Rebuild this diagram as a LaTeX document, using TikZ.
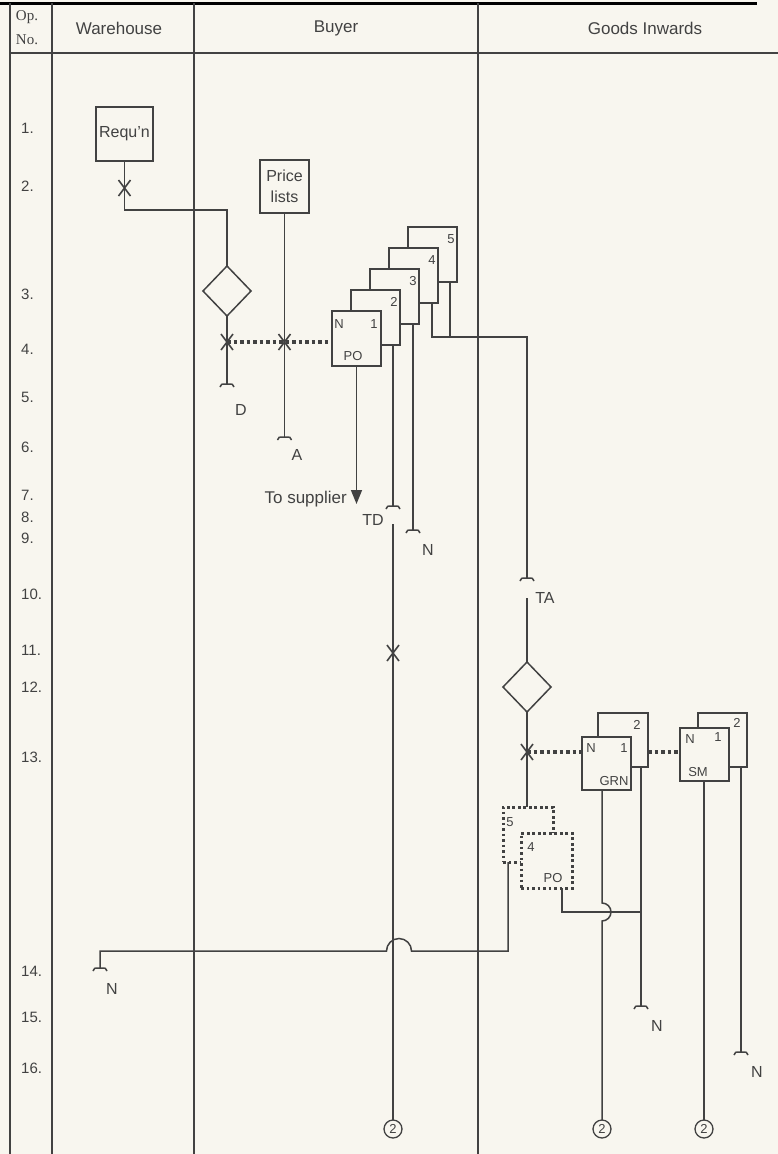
\documentclass[tikz,border=0pt]{standalone}
\usepackage{fontspec}
\setmainfont{Liberation Sans}
\newfontfamily\opfont{Liberation Serif}
\usetikzlibrary{arrows.meta,shapes.geometric,calc}
\definecolor{ink}{HTML}{424242}
\definecolor{paper}{HTML}{F8F6EF}
\tikzset{
  ln/.style={draw=ink, line width=1.5pt},
  formbox/.style={draw=ink, line width=1.5pt, fill=paper, minimum width=49pt, minimum height=55pt, anchor=north west, inner sep=0pt, outer sep=0pt},
  dotbox/.style={draw=ink, line width=3pt, dash pattern=on 2.6pt off 2.9pt, fill=paper, anchor=north west, inner sep=0pt, outer sep=0pt},
  dotln/.style={draw=ink, line width=3.6pt, dash pattern=on 3.5pt off 3pt},
  docbox/.style={draw=ink, line width=1.5pt, fill=paper, inner sep=0pt, outer sep=0pt, align=center, text=ink, font=\fontsize{16}{21}\selectfont},
  lbl/.style={text=ink, font=\fontsize{16}{18}\selectfont, inner sep=0pt},
  hdr/.style={text=ink, font=\fontsize{17}{19}\selectfont, inner sep=0pt},
  small/.style={text=ink, font=\fontsize{13}{14}\selectfont, inner sep=0pt},
  num/.style={text=ink, font=\fontsize{15}{17}\selectfont, inner sep=0pt, anchor=west},
  decision/.style={diamond, draw=ink, line width=1.5pt, inner sep=0pt, outer sep=0pt, minimum width=48pt, minimum height=50pt},
  endcircle/.style={circle, draw=ink, line width=1.3pt, minimum size=18pt, inner sep=0pt, outer sep=0pt, text=ink, font=\fontsize{13}{14}\selectfont},
  pics/endbar/.style={code={\draw[ink, line width=1.5pt] (-7,3) .. controls (-6,0) .. (0,0) .. controls (6,0) .. (7,3);}},
  pics/xmark/.style={code={\draw[ink, line width=1.6pt] (-6,-8) -- (6,8) (-6,8) -- (6,-8);}},
}
\begin{document}
\begin{tikzpicture}[x=1pt,y=-1pt]
\useasboundingbox (0,0) rectangle (778,1154);
\fill[paper] (0,0) rectangle (778,1154);
% ---------- table ----------
\draw[black, line width=3pt] (0,3) -- (757,3);
\draw[ln] (10,3) -- (10,1154);
\draw[ln] (52,3) -- (52,1154);
\draw[ln] (194,3) -- (194,1154);
\draw[ln] (478,3) -- (478,1154);
\draw[ln] (10,53) -- (778,53);
\node[text=ink, font=\opfont\fontsize{15}{17}\selectfont, inner sep=0pt] (op) at (27,17) {Op.};
\node[text=ink, font=\opfont\fontsize{15}{17}\selectfont, inner sep=0pt] (no) at (27,40) {No.};
\node[hdr] (hw) at (119,28) {Warehouse};
\node[hdr] (hb) at (336,28) {Buyer};
\node[hdr] (hg) at (645,28) {Goods Inwards};
\foreach \n/\yy in {1/128,2/186,3/294,4/349,5/397,6/447,7/495,8/517,9/538,10/594,11/650,12/687,13/757,14/971,15/1017,16/1068}
  \node[num] (row\n) at (21,\yy) {\n.};
% ---------- warehouse ----------
\node[docbox, minimum width=57pt, minimum height=54pt] (req) at (124.5,134) {Requ'n};
\coordinate (rqbend) at (124.5,210);
\node[decision] (dec1) at (227,291) {};
\draw[ln] (req.south) -- (rqbend) -| (dec1.north);
\pic at (124.5,188) {xmark};
% ---------- buyer ----------
\node[docbox, minimum width=49pt, minimum height=53pt] (pl) at (284.5,186.5) {Price\\lists};
\coordinate (xd) at (227,342);
\coordinate (xa) at (284.5,342);
\coordinate (dend) at (227,384);
\coordinate (aend) at (284.5,437);
\draw[ln] (dec1.south) -- (dend);
\pic at (dend) {endbar};
\draw[ln] (pl.south) -- (aend);
\pic at (aend) {endbar};
\node[lbl] (dl) at (241,410) {D};
\node[lbl] (al) at (297,455) {A};
% PO set
\foreach \k/\x/\y in {5/408/227,4/389/248,3/370/269,2/351/290}{
  \node[formbox] (po\k) at (\x,\y) {};
  \node[small] (po\k n) at ($(po\k.north east)+(-6,12)$) {\k};
}
\node[formbox] (po1) at (332,311) {};
\node[small] (po1a) at (339,324) {N};
\node[small] (po1b) at (374,324) {1};
\node[small] (po1c) at (353,356) {PO};
\draw[dotln] (xd) -- (xd -| po1.west);
\pic at (xd) {xmark};
\pic at (xa) {xmark};
% copy 1 to supplier
\coordinate (sup) at (356.5,504);
\draw[ln, -{Triangle[length=14pt,width=11pt]}] (po1.south) -- (sup);
\node[text=ink, font=\fontsize{17}{19}\selectfont, inner sep=0pt, anchor=east] (tosup) at (347,499) {To supplier};
% copy 2 TD
\coordinate (td) at (393,506);
\coordinate (tdr) at (393,524);
\draw[ln] (po2.south -| td) -- (td);
\pic at (td) {endbar};
\node[lbl] (tdl) at (373,520) {TD};
\node[endcircle] (c1) at (393,1129) {2};
\draw[ln] (tdr) -- (c1.north);
\pic at (393,653) {xmark};
% copy 3 N
\coordinate (n3) at (413,530);
\draw[ln] (po3.south -| n3) -- (n3);
\pic at (n3) {endbar};
\node[lbl] (n3l) at (428,550) {N};
% copies 4,5 to goods inwards
\coordinate (j4) at (432,337);
\coordinate (j5) at (450,337);
\coordinate (ta) at (527,578);
\coordinate (tar) at (527,598);
\draw[ln] (po4.south -| j4) -- (j4) -| (ta);
\draw[ln] (po5.south -| j5) -- (j5);
\pic at (ta) {endbar};
\node[lbl] (tal) at (545,598) {TA};
% ---------- goods inwards ----------
\node[decision] (dec2) at (527,687) {};
\draw[ln] (tar) -- (dec2.north);
\node[dotbox, minimum width=50pt, minimum height=55pt] (pd5) at (503,807) {};
\node[dotbox, minimum width=51pt, minimum height=55pt] (pd4) at (521,833) {};
\node[small] (pd5n) at (510,822) {5};
\node[small] (pd4n) at (531,847) {4};
\node[small] (pd4p) at (553,878) {PO};
\draw[ln] (dec2.south) -- (dec2.south |- pd5.north);
% GRN and SM
\node[formbox, minimum width=50pt, minimum height=54pt] (grn2) at (598,713) {};
\node[formbox, minimum width=49pt, minimum height=53pt] (grn1) at (582,737) {};
\node[small] (grn2n) at (637,725) {2};
\node[small] (grn1a) at (591,748) {N};
\node[small] (grn1b) at (624,748) {1};
\node[small] (grn1c) at (614,781) {GRN};
\node[formbox, minimum width=49pt, minimum height=54pt] (sm2) at (698,713) {};
\node[formbox, minimum width=49pt, minimum height=53pt] (sm1) at (680,728) {};
\node[small] (sm2n) at (737,723) {2};
\node[small] (sm1a) at (690,739) {N};
\node[small] (sm1b) at (718,737) {1};
\node[small] (sm1c) at (698,772) {SM};
\coordinate (xg) at (527,752);
\draw[dotln] (xg) -- (xg -| grn1.west);
\draw[dotln] (xg -| grn2.east) -- (xg -| sm1.west);
\pic at (xg) {xmark};
% GRN copy 1
\coordinate (h1) at (602,903);
\node[endcircle] (c2) at (602,1129) {2};
\draw[ln] (grn1.south -| h1) -- (h1) arc[start angle=-90, end angle=90, radius=9] -- (c2.north);
% GRN copy 2
\coordinate (n5) at (641,1006);
\draw[ln] (grn2.south -| n5) -- (n5);
\pic at (n5) {endbar};
\node[lbl] (n5l) at (657,1026) {N};
% SM copies
\node[endcircle] (c3) at (704,1129) {2};
\draw[ln] (sm1.south -| c3) -- (c3.north);
\coordinate (n6) at (741,1052);
\draw[ln] (sm2.south -| n6) -- (n6);
\pic at (n6) {endbar};
\node[lbl] (n6l) at (757,1072) {N};
% PO copy 5 back to warehouse
\coordinate (p5a) at (508,951);
\coordinate (p5b) at (411.5,951);
\coordinate (nw) at (100,968);
\draw[ln] (pd5.south -| p5a) -- (p5a) -- (p5b) arc[start angle=0, end angle=-180, radius=12.5] -| (nw);
\pic at (nw) {endbar};
\node[lbl] (nwl) at (112,989) {N};
% PO copy 4 to GRN copy 2
\coordinate (p4a) at (562,912);
\draw[ln] (pd4.south -| p4a) -- (p4a) -- (p4a -| n5);
\end{tikzpicture}
\end{document}
